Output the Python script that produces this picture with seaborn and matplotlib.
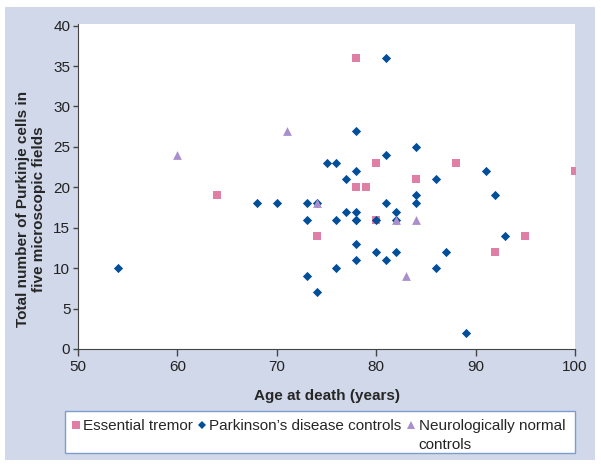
import pandas as pd
import seaborn as sns
import matplotlib.pyplot as plt
from matplotlib.patches import Rectangle
from matplotlib.lines import Line2D

# Essential tremor cases
et_age = [64, 74, 78, 78, 79, 80, 80, 84, 88, 92, 95, 100]
et_cells = [19, 14, 36, 20, 20, 23, 16, 21, 23, 12, 14, 22]

# Parkinson's disease controls
pd_age = [54, 68, 70, 73, 74, 73, 76, 73, 74, 76, 75, 76, 77, 77, 78, 78,
          78, 78, 78, 78, 78, 80, 80, 81, 81, 81, 81, 82, 82, 82, 84, 84,
          84, 86, 86, 87, 89, 91, 92, 93]
pd_cells = [10, 18, 18, 18, 18, 16, 16, 9, 7, 10, 23, 23, 21, 17, 17, 16,
            22, 27, 13, 11, 16, 16, 12, 36, 24, 18, 11, 17, 16, 12, 25, 19,
            18, 21, 10, 12, 2, 22, 19, 14]

# Neurologically normal controls
nc_age = [60, 71, 74, 82, 84, 83]
nc_cells = [24, 27, 18, 16, 16, 9]

groups = ["Essential tremor", "Parkinson\u2019s disease controls",
          "Neurologically normal controls"]

df = pd.concat([
    pd.DataFrame({"age": et_age, "cells": et_cells, "group": groups[0]}),
    pd.DataFrame({"age": pd_age, "cells": pd_cells, "group": groups[1]}),
    pd.DataFrame({"age": nc_age, "cells": nc_cells, "group": groups[2]}),
], ignore_index=True)

sns.set_style("ticks")
plt.rcParams["font.family"] = ["Liberation Sans", "DejaVu Sans"]

palette = {groups[0]: "#e07fa6", groups[1]: "#004f98", groups[2]: "#a98fcb"}
markers = {groups[0]: "s", groups[1]: "D", groups[2]: "^"}
sizes = {groups[0]: 36, groups[1]: 22, groups[2]: 40}

fig = plt.figure(figsize=(6.01, 4.67), dpi=100)
fig.patch.set_facecolor("white")
W, H = 601, 467
fig.patches.append(Rectangle((5 / W, 7 / H), 590 / W, 453 / H,
                             transform=fig.transFigure, facecolor="#d0d8ea",
                             edgecolor="none", zorder=-10))
# legend box
fig.patches.append(Rectangle((65 / W, 1 - 453 / H), 510 / W, 42 / H,
                             transform=fig.transFigure, facecolor="white",
                             edgecolor="#7d9ccf", linewidth=1, zorder=-5))

ax = fig.add_axes([78 / W, 1 - 349 / H, 497 / W, 325 / H])
ax.set_facecolor("white")

for g in groups:
    sub = df[df["group"] == g]
    sns.scatterplot(data=sub, x="age", y="cells", color=palette[g],
                    marker=markers[g], s=sizes[g], linewidth=0, ax=ax,
                    legend=False, zorder=3)

ax.set_xlim(50, 100)
ax.set_ylim(0, 40.2)
ax.set_xticks(range(50, 101, 10))
ax.set_yticks(range(0, 41, 5))
ax.tick_params(labelsize=11, width=1, color="#444444", labelcolor="#222222")
ax.tick_params(axis="x", length=5, pad=3)
ax.tick_params(axis="y", length=3.5, pad=2)
for s in ["top", "right"]:
    ax.spines[s].set_visible(False)
for s in ["left", "bottom"]:
    ax.spines[s].set_color("#444444")
ax.set_xlabel("Age at death (years)", fontsize=11, fontweight="bold")
ax.set_ylabel("Total number of Purkinje cells in\nfive microscopic fields",
              fontsize=11, fontweight="bold")
ax.xaxis.set_label_coords(0.5, -40 / 325)
ax.yaxis.set_label_coords(-32 / 497, 140 / 325)

# legend: single-line labels, second line of the last one added below
leg_labels = ["Essential tremor", "Parkinson\u2019s disease controls",
              "Neurologically normal"]
handles = [Line2D([], [], linestyle="none", marker=markers[g], color=palette[g],
                  markersize=ms, markeredgewidth=0)
           for g, ms in zip(groups, [6, 4.5, 6])]
leg = fig.legend(handles, leg_labels, loc="upper left",
                 bbox_to_anchor=(66 / W, 1 - 414 / H),
                 ncol=3, fontsize=11, frameon=False,
                 handletextpad=0.2, handlelength=0.55, columnspacing=0.35,
                 borderpad=0.35, borderaxespad=0)

fig.canvas.draw()
bb = leg.get_texts()[2].get_window_extent()
fig.text(bb.x0 / W, (bb.y0 + bb.y1) / 2 / H - 19 / H, "controls",
         fontsize=11, ha="left", va="center", color="#222222")

fig.savefig("out.png", dpi=100)
